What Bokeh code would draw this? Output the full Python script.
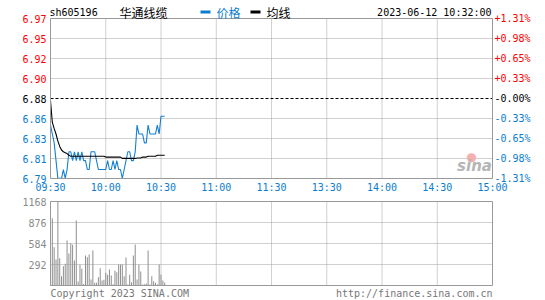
from bokeh.plotting import figure
from bokeh.models import Range1d, Label, ColumnDataSource, BoxAnnotation
from bokeh.core.properties import value, field
from bokeh.embed import file_html
from bokeh.resources import INLINE

# ---------------- data ----------------
code = "sh605196"
name = "华通线缆"
timestamp = "2023-06-12 10:32:00"
legend_price = "价格"
legend_avg = "均线"
footer_left = "Copyright 2023 SINA.COM"
footer_right = "http://finance.sina.com.cn"

prev_close = 6.88
pct_span = 0.0131

time_ticks = [0, 30, 60, 90, 120, 150, 180, 210, 240]
time_labels = ["09:30", "10:00", "10:30", "11:00", "11:30", "13:30", "14:00", "14:30", "15:00"]
price_tick_labels = ["6.97", "6.95", "6.92", "6.90", "6.88", "6.86", "6.83", "6.81", "6.79"]
pct_tick_labels = ["+1.31%", "+0.98%", "+0.65%", "+0.33%", "-0.00%", "-0.33%", "-0.65%", "-0.98%", "-1.31%"]
vol_ticks = [0, 292, 584, 876, 1168]
vol_tick_labels = ["", "292", "584", "876", "1168"]
vol_max = 1168

minutes = list(range(63))
price = [6.85, 6.84, 6.83, 6.81, 6.79, 6.79, 6.79, 6.80, 6.79, 6.80,
         6.82, 6.82, 6.81, 6.82, 6.81, 6.82, 6.81, 6.82, 6.81, 6.81,
         6.80, 6.80, 6.82, 6.82, 6.82, 6.81, 6.80, 6.80, 6.80, 6.80,
         6.80, 6.81, 6.80, 6.80, 6.81, 6.80, 6.81, 6.80, 6.80, 6.79,
         6.80, 6.81, 6.82, 6.82, 6.81, 6.81, 6.82, 6.85, 6.84, 6.84,
         6.84, 6.83, 6.83, 6.85, 6.84, 6.84, 6.84, 6.84, 6.85, 6.84,
         6.86, 6.86, 6.86]
avg = [6.877, 6.853, 6.846, 6.840, 6.832, 6.826, 6.822, 6.820, 6.819, 6.818,
       6.816, 6.815, 6.815, 6.815, 6.815, 6.815, 6.815, 6.815, 6.815, 6.815,
       6.815, 6.815, 6.815, 6.815, 6.815, 6.815, 6.815, 6.815, 6.815, 6.815,
       6.814, 6.814, 6.814, 6.814, 6.814, 6.814, 6.814, 6.814, 6.814, 6.8125,
       6.8125, 6.8125, 6.8125, 6.8125, 6.8125, 6.8125, 6.8125, 6.813, 6.813, 6.813,
       6.814, 6.814, 6.814, 6.815, 6.815, 6.815, 6.815, 6.815, 6.816, 6.816,
       6.816, 6.816, 6.816]
volume = [463, 936, 533, 361, 1168, 380, 130, 269, 301, 626,
          445, 589, 565, 348, 904, 56, 287, 232, 20, 417,
          394, 431, 83, 487, 37, 37, 116, 241, 70, 79,
          176, 148, 222, 139, 19, 204, 185, 292, 292, 292,
          130, 389, 14, 148, 46, 417, 570, 83, 292, 195,
          14, 19, 28, 487, 14, 130, 60, 37, 19, 292,
          153, 70, 42]

# ---------------- styles / geometry ----------------
BLUE = "#0a7dd0"
LINE_BLUE = "#1580d0"
RED = "#ff0000"
GRID = "#a0a0a0"
BORDER = "#999999"
MONO = "DejaVu Sans Mono"
CJK = "Noto Sans CJK SC"

W, H = 545, 300
FL, FR = 50, 492           # panel left / right pixel
PT, PB = 18, 178           # price panel top / bottom pixel
VT, VB = 201, 285          # volume panel top / bottom pixel

PMAX = prev_close * (1 + pct_span)
PMIN = prev_close * (1 - pct_span)
levels = [PMAX - k * (PMAX - PMIN) / 8 for k in range(9)]
level_colors = [RED] * 4 + ["#000000"] + [BLUE] * 4

kx = 240.0 / (FR - FL)
ppx = (PMAX - PMIN) / (PB - PT)
vpx = vol_max / float(VB - VT)

def X(px):
    return (px - FL) * kx

def Y1(py):
    return PMAX - (py - PT) * ppx

def Y2(py):
    return (VB - py) * vpx

p = figure(width=W, height=H, output_backend="svg", toolbar_location=None,
           x_range=Range1d(X(0), X(W)), y_range=Range1d(Y1(H), Y1(0)),
           x_axis_location=None, y_axis_location=None,
           min_border_left=0, min_border_right=0, min_border_top=0, min_border_bottom=0)
p.extra_y_ranges = {"vol": Range1d(Y2(H), Y2(0))}
p.xgrid.visible = False
p.ygrid.visible = False
p.outline_line_color = None
p.background_fill_color = "white"
p.border_fill_color = "white"

# ---- price panel grid ----
inner_t = time_ticks[1:-1]
p.segment(x0=inner_t, y0=[PMIN] * len(inner_t), x1=inner_t, y1=[PMAX] * len(inner_t),
          line_color=GRID, line_dash="1 1", line_width=1)
grid_levels = [lv for i, lv in enumerate(levels) if i not in (0, 4, 8)]
p.segment(x0=[0] * len(grid_levels), y0=grid_levels, x1=[240] * len(grid_levels), y1=grid_levels,
          line_color=GRID, line_dash="1 1", line_width=1)
p.segment(x0=[0], y0=[prev_close], x1=[240], y1=[prev_close],
          line_color="black", line_dash="3 2", line_width=1)

# ---- volume panel grid ----
p.segment(x0=inner_t, y0=[0] * len(inner_t), x1=inner_t, y1=[vol_max] * len(inner_t),
          line_color=GRID, line_dash="1 1", line_width=1, y_range_name="vol")
vg = vol_ticks[1:-1]
p.segment(x0=[0] * len(vg), y0=vg, x1=[240] * len(vg), y1=vg,
          line_color=GRID, line_dash="1 1", line_width=1, y_range_name="vol")

# ---- watermark (drawn under the data) ----
def hlabel(x, y, text, color="black", font=MONO, size="10px", align="left", **kw):
    p.add_layout(Label(x=x, y=y, text=text, text_color=color, text_font=font,
                       text_font_size=size, text_align=align, text_baseline="middle", **kw))

hlabel(X(471), Y1(156), "●", color="#f4b0b0", font="DejaVu Sans", size="12px", align="center")
hlabel(X(474), Y1(165), "sina", color="#b5b5b5", font="DejaVu Sans", size="15px",
       align="center", text_font_style="bold italic")

# ---- marks ----
p.vbar(x=minutes, top=volume, width=0.55, bottom=0, fill_color="#909090", line_color=None,
       y_range_name="vol")
p.line(minutes, price, line_color=LINE_BLUE, line_width=1.1)
p.line(minutes, avg, line_color="black", line_width=1.1)

# ---- panel borders ----
p.quad(left=[0], right=[240], bottom=[PMIN], top=[PMAX], fill_color=None,
       line_color=BORDER, line_width=1)
p.quad(left=[0], right=[240], bottom=[0], top=[vol_max], fill_color=None,
       line_color=BORDER, line_width=1, y_range_name="vol")

# ---- tick labels ----
src_l = ColumnDataSource(dict(x=[0] * 9, y=levels, text=price_tick_labels, color=level_colors))
p.text(x="x", y="y", text="text", source=src_l, text_color=field("color"), x_offset=-4,
       text_align="right", text_baseline="middle", text_font=value(MONO), text_font_size="10px")
src_r = ColumnDataSource(dict(x=[240] * 9, y=levels, text=pct_tick_labels, color=level_colors))
p.text(x="x", y="y", text="text", source=src_r, text_color=field("color"), x_offset=2,
       text_align="left", text_baseline="middle", text_font=value(MONO), text_font_size="10px")
p.text(x=time_ticks, y=[Y1(187)] * len(time_ticks), text=time_labels, text_color=BLUE,
       text_align="center", text_baseline="middle", text_font=value(MONO), text_font_size="10px")
p.text(x=[0] * len(vol_ticks), y=vol_ticks, text=vol_tick_labels, text_color="#8a8a8a", x_offset=-4,
       text_align="right", text_baseline="middle", text_font=value(MONO), text_font_size="10px",
       y_range_name="vol")

# ---- header / footer ----
hy = Y1(11.5)
hlabel(X(49), hy, code)
hlabel(X(119), hy, name, font=CJK, size="12px")
p.add_layout(BoxAnnotation(left=X(200), right=X(210), top=Y1(10), bottom=Y1(13),
                           fill_color=BLUE, fill_alpha=1, line_color=None))
hlabel(X(216), hy, legend_price, color=BLUE, font=CJK, size="12px")
p.add_layout(BoxAnnotation(left=X(250), right=X(260), top=Y1(10), bottom=Y1(13),
                           fill_color="black", fill_alpha=1, line_color=None))
hlabel(X(266), hy, legend_avg, font=CJK, size="12px")
hlabel(X(491), hy, timestamp, align="right")

fy = Y1(292.5)
hlabel(X(50), fy, footer_left, color="#777777")
hlabel(X(492), fy, footer_right, color="#777777", align="right")

open("out.html", "w").write(file_html(p, INLINE))
